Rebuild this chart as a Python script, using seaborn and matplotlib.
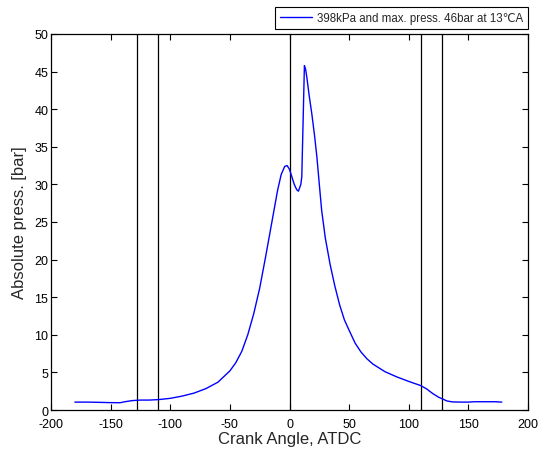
import matplotlib
matplotlib.use("Agg")
import matplotlib.pyplot as plt
import seaborn as sns
import pandas as pd

# Cylinder pressure trace vs crank angle
crank_angle = [-180, -170, -160, -150, -142, -138, -132, -125, -118, -110,
               -100, -90, -80, -70, -60, -50, -45, -40, -35, -30,
               -25, -20, -15, -10, -7, -4, -2, 0, 2, 4,
               6, 7.5, 9.5, 10.3, 11.5, 12.5, 13.5, 14.5, 16.5, 18.7,
               21, 23, 25, 27, 30, 34, 38, 42, 46, 50,
               55, 60, 65, 70, 80, 90, 100, 110, 115, 120,
               125, 128, 132, 137, 145, 150, 155, 165, 172, 178]
pressure = [1.05, 1.05, 1.02, 0.98, 0.97, 1.1, 1.25, 1.32, 1.32, 1.38,
            1.55, 1.85, 2.25, 2.85, 3.7, 5.2, 6.3, 7.8, 10.0, 12.8,
            16.2, 20.4, 24.8, 29.2, 31.3, 32.4, 32.5, 32.0, 31.0, 30.0,
            29.3, 29.1, 30.0, 31.0, 39.0, 45.8, 45.3, 44.3, 41.8, 39.4,
            36.5, 33.6, 30.0, 26.5, 22.9, 19.4, 16.5, 14.0, 12.0, 10.6,
            8.9, 7.7, 6.8, 6.1, 5.1, 4.4, 3.8, 3.25, 2.8, 2.2,
            1.7, 1.5, 1.2, 1.07, 1.05, 1.05, 1.1, 1.1, 1.1, 1.05]

# Valve timing / TDC markers
marker_angles = [-128, -110, 0, 110, 128]

legend_label = "398kPa and max. press. 46bar at 13\u2103A"
x_ticks = [-200, -150, -100, -50, 0, 50, 100, 150, 200]
y_ticks = [0, 5, 10, 15, 20, 25, 30, 35, 40, 45, 50]

sns.set_style("white")
plt.rcParams["font.family"] = ["Liberation Sans", "DejaVu Sans"]
plt.rcParams["axes.unicode_minus"] = False

df = pd.DataFrame({"angle": crank_angle, "p": pressure})

fig = plt.figure(figsize=(5.43, 4.52), dpi=100)
ax = fig.add_axes([0.0939, 0.0907, 0.8785, 0.8319])

for a in marker_angles:
    ax.axvline(a, color="black", linewidth=0.9, zorder=1)

sns.lineplot(data=df, x="angle", y="p", ax=ax, color="#0000ff",
             linewidth=1.0, label=legend_label, zorder=2)

ax.set_xlim(-200, 200)
ax.set_ylim(0, 50)
ax.set_xticks(x_ticks)
ax.set_yticks(y_ticks)
ax.tick_params(direction="in", length=4, width=0.8, labelsize=9,
               top=True, right=True, bottom=True, left=True, pad=2,
               colors="black")
ax.tick_params(axis="x", pad=5.5)
for s in ax.spines.values():
    s.set_color("black")
    s.set_linewidth(0.9)
    s.set_visible(True)

ax.set_xlabel("Crank Angle, ATDC", fontsize=12, labelpad=1)
ax.set_ylabel("Absolute press. [bar]", fontsize=12, labelpad=5)

leg = ax.legend(loc="lower right", bbox_to_anchor=(1.0, 1.013), fontsize=8.3,
                frameon=True, fancybox=False, framealpha=1, handlelength=2.7,
                borderpad=0.45, borderaxespad=0, handletextpad=0.45)
leg.get_frame().set_edgecolor("black")
leg.get_frame().set_linewidth(0.8)

fig.savefig("out.png", dpi=100)
